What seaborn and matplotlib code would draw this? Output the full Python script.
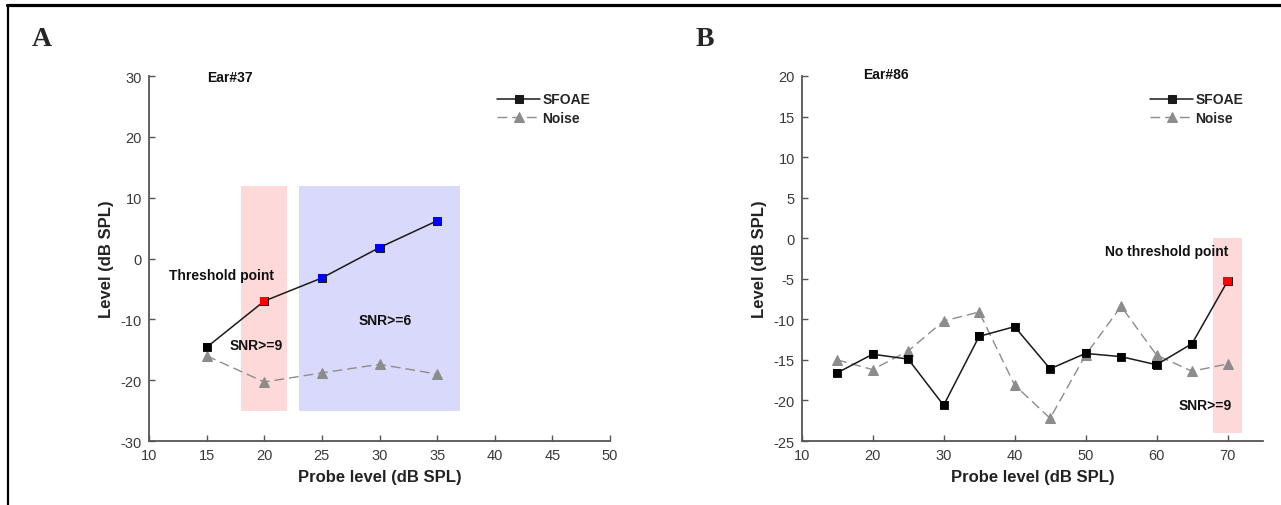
import matplotlib
matplotlib.use("Agg")
import matplotlib.pyplot as plt
import seaborn as sns
import pandas as pd
from matplotlib.lines import Line2D

# ---------------- data ----------------
probe_a = [15, 20, 25, 30, 35]
sfoae_a = [-14.6, -7.0, -3.2, 1.8, 6.2]
noise_a = [-16.0, -20.3, -18.8, -17.4, -19.0]
status_a = ["below", "threshold", "above", "above", "above"]

probe_b = [15, 20, 25, 30, 35, 40, 45, 50, 55, 60, 65, 70]
sfoae_b = [-16.6, -14.3, -14.9, -20.6, -12.1, -10.9, -16.1, -14.2, -14.6, -15.6, -13.0, -5.3]
noise_b = [-15.0, -16.2, -13.9, -10.2, -9.1, -18.1, -22.2, -14.4, -8.4, -14.4, -16.4, -15.5]
status_b = ["below"] * 11 + ["threshold"]

xticks_a = [10, 15, 20, 25, 30, 35, 40, 45, 50]
yticks_a = [-30, -20, -10, 0, 10, 20, 30]
xticks_b = [10, 20, 30, 40, 50, 60, 70]
yticks_b = [-25, -20, -15, -10, -5, 0, 5, 10, 15, 20]

# shaded SNR regions: (x0, x1, y0, y1, kind)
regions_a = [(18, 22, -25, 12, "snr9"), (23, 37, -25, 12, "snr6")]
regions_b = [(68, 72, -24, 0, "snr9")]

notes_a = [("Ear#37", 17.0, 29.8), ("Threshold point", 16.3, -2.7),
           ("SNR>=9", 19.3, -14.3), ("SNR>=6", 30.5, -10.1)]
notes_b = [("Ear#86", 21.8, 20.2), ("No threshold point", 61.4, -1.6),
           ("SNR>=9", 66.9, -20.5)]

status_palette = {"below": "#000000", "threshold": "#ff0000", "above": "#0000ff"}
region_colors = {"snr9": "#fdd9da", "snr6": "#d9d9fc"}

# ---------------- style ----------------
sns.set_theme(style="ticks")
plt.rcParams["font.family"] = ["Liberation Sans", "DejaVu Sans"]
plt.rcParams["axes.unicode_minus"] = False

fig = plt.figure(figsize=(12.81, 5.06), dpi=100)
ax_a = fig.add_axes([149 / 1281, 64 / 506, 461 / 1281, 365 / 506])
ax_b = fig.add_axes([801.7 / 1281, 64 / 506, 461.3 / 1281, 365 / 506])

SPINE = "#555555"


def draw(ax, probe, sfoae, noise, status, regions, notes, xlim, ylim, xticks, yticks):
    df = pd.DataFrame(dict(probe=probe, sfoae=sfoae, noise=noise, status=status))
    for x0, x1, y0, y1, kind in regions:
        ax.fill_between([x0, x1], y0, y1, color=region_colors[kind], lw=0, zorder=1)
    sns.lineplot(data=df, x="probe", y="noise", ax=ax, color="#8c8c8c", lw=1.0,
                 linestyle=(0, (7, 3.6)), marker="^", markersize=6.5,
                 markeredgecolor="#8c8c8c", label="Noise", zorder=3)
    sns.lineplot(data=df, x="probe", y="sfoae", ax=ax, color="#1a1a1a", lw=1.1,
                 marker="s", markersize=5.5, markeredgecolor="#1a1a1a",
                 label="SFOAE", zorder=4)
    sns.scatterplot(data=df, x="probe", y="sfoae", hue="status", palette=status_palette,
                    marker="s", s=34, linewidth=0, legend=False, ax=ax, zorder=5)
    for txt, x, y in notes:
        ax.text(x, y, txt, ha="center", va="center", fontsize=10, fontweight="bold",
                color="#111111", zorder=6)
    ax.set_xlim(*xlim)
    ax.set_ylim(*ylim)
    ax.set_xticks(xticks)
    ax.set_yticks(yticks)
    ax.set_xlabel("Probe level (dB SPL)", fontsize=12, fontweight="bold", color="#222222", labelpad=5)
    ax.set_ylabel("Level (dB SPL)", fontsize=12, fontweight="bold", color="#222222", labelpad=5)
    for s in ["top", "right"]:
        ax.spines[s].set_visible(False)
    for s in ["left", "bottom"]:
        ax.spines[s].set_color(SPINE)
        ax.spines[s].set_linewidth(1.3)
    ax.tick_params(direction="in", length=4, width=1, color=SPINE, labelsize=10.5,
                   labelcolor="#3a3a3a", pad=5)
    h, l = ax.get_legend_handles_labels()
    order = [l.index("SFOAE"), l.index("Noise")]
    ax.legend([h[i] for i in order], [l[i] for i in order], loc="upper left",
              bbox_to_anchor=(0.755, 0.955), frameon=False,
              prop=dict(weight="bold", size=10), handlelength=3.1, handletextpad=0.15,
              labelspacing=0.35, borderaxespad=0, borderpad=0)
    ax.patch.set_alpha(0)


draw(ax_a, probe_a, sfoae_a, noise_a, status_a, regions_a, notes_a,
     (10, 50), (-30, 30), xticks_a, yticks_a)
draw(ax_b, probe_b, sfoae_b, noise_b, status_b, regions_b, notes_b,
     (10, 75), (-25, 20), xticks_b, yticks_b)

fig.text(42 / 1281, 1 - 39 / 506, "A", ha="center", va="center", fontsize=20,
         fontweight="bold", family="Liberation Serif")
fig.text(705 / 1281, 1 - 39 / 506, "B", ha="center", va="center", fontsize=20,
         fontweight="bold", family="Liberation Serif")

# frame lines (top and left)
fig.add_artist(Line2D([7 / 1281, 1], [1 - 6 / 506, 1 - 6 / 506], color="black", lw=2.3,
                      transform=fig.transFigure))
fig.add_artist(Line2D([7.5 / 1281, 7.5 / 1281], [0, 1 - 6 / 506], color="black", lw=1.6,
                      transform=fig.transFigure))

fig.savefig("out.png", dpi=100)
